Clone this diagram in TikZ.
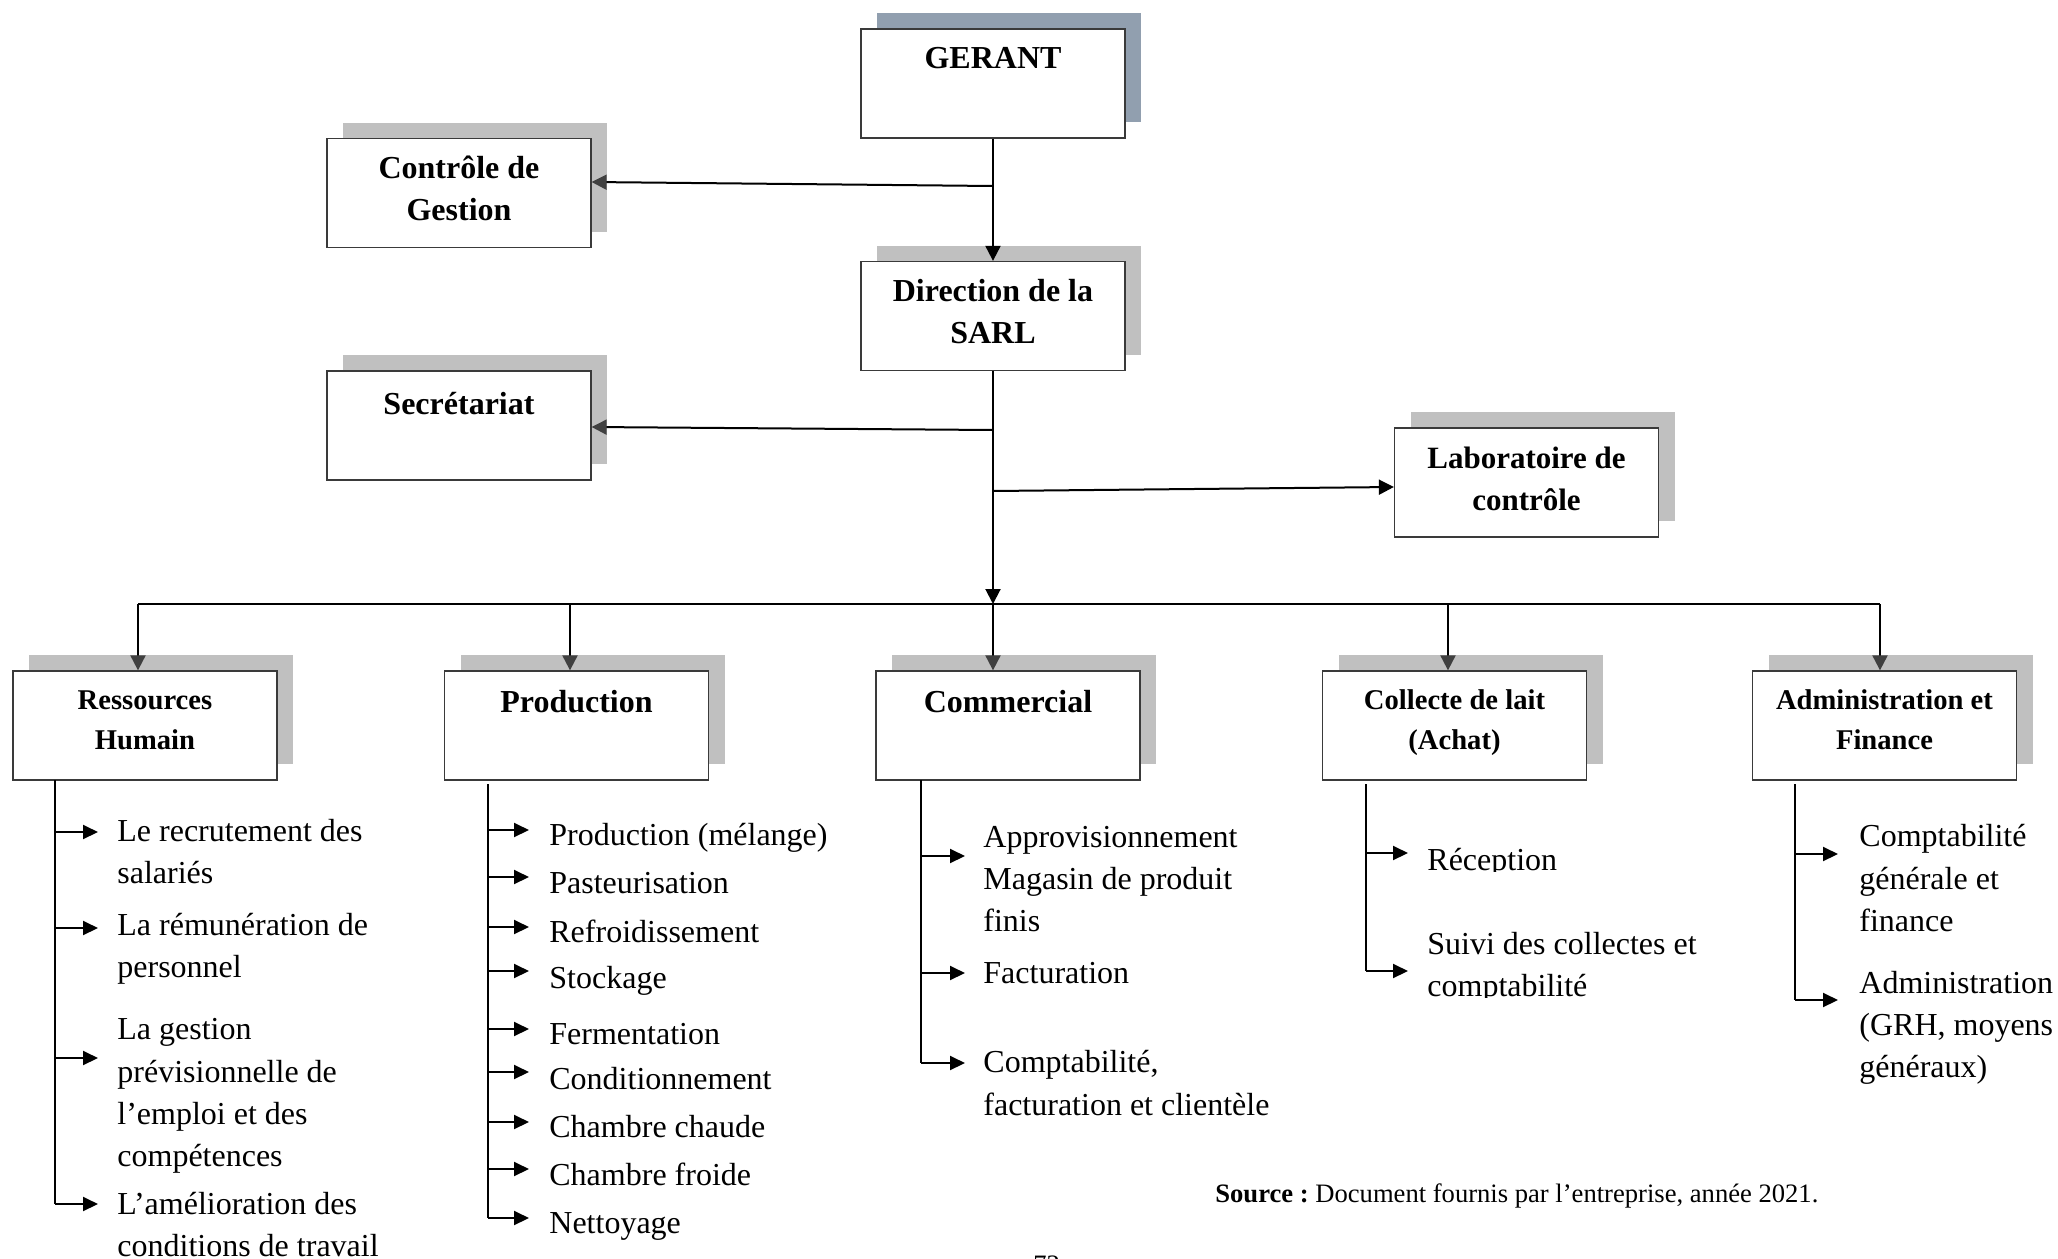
\documentclass[tikz,border=0pt]{standalone}
\usepackage{fontspec}
\setmainfont{Liberation Serif}
\usetikzlibrary{arrows.meta,shadows}
\frenchspacing
\definecolor{shgrey}{HTML}{C0C0C0}
\definecolor{shslate}{HTML}{919FAF}
\definecolor{bordergrey}{HTML}{3A3A3A}
\definecolor{tipgrey}{HTML}{404040}
\tikzset{
  orgbox/.style={draw=bordergrey, line width=0.65pt, fill=white,
    minimum width=132pt, minimum height=54.5pt, inner sep=0pt},
  greyshadow/.style={general shadow={shadow xshift=8pt, shadow yshift=8pt, fill=shgrey}},
  slateshadow/.style={general shadow={shadow xshift=8pt, shadow yshift=8pt, fill=shslate}},
  hdr/.style={font=\bfseries\fontsize{16}{21}\selectfont, anchor=base, inner sep=0pt},
  hdrmid/.style={font=\bfseries\fontsize{15.5}{20}\selectfont, anchor=base, inner sep=0pt},
  hdrsmall/.style={font=\bfseries\fontsize{14.3}{18}\selectfont, anchor=base, inner sep=0pt},
  item/.style={font=\fontsize{16}{21}\selectfont, anchor=base west, inner sep=0pt},
  trunk/.style={line width=1pt, black},
  greytip/.style={-{Triangle[length=7.5pt,width=7.5pt,color=tipgrey]}},
  blacktip/.style={-{Triangle[length=7.5pt,width=7.5pt]}},
  listline/.style={line width=1pt, black},
  listtip/.style={-{Triangle[length=7.5pt,width=7pt]}}
}
\begin{document}
\begin{tikzpicture}[x=0.5pt,y=-0.5pt]
\useasboundingbox (0,0) rectangle (2058,1259);
\clip (0,0) rectangle (2058,1259);
\fill[white] (0,0) rectangle (2058,1259);

% ---------- boxes ----------
\node[orgbox, slateshadow] (ger) at (993,83.5) {};
\node[orgbox, greyshadow] (cg)  at (459,193) {};
\node[orgbox, greyshadow] (dir) at (993,316) {};
\node[orgbox, greyshadow] (sec) at (459,425.5) {};
\node[orgbox, greyshadow] (lab) at (1526.5,482.5) {};
\node[orgbox, greyshadow] (rh)   at (145,725.5) {};
\node[orgbox, greyshadow] (prod) at (576.5,725.5) {};
\node[orgbox, greyshadow] (com)  at (1008,725.5) {};
\node[orgbox, greyshadow] (col)  at (1454.5,725.5) {};
\node[orgbox, greyshadow] (adm)  at (1884.5,725.5) {};

% ---------- box titles ----------
\node[hdr] (gert) at (993,68) {GERANT};
\node[hdr] (cgt1) at (459,178) {Contrôle de};
\node[hdr] (cgt2) at (459,220) {Gestion};
\node[hdr] (dirt1) at (993,301) {Direction de la};
\node[hdr] (dirt2) at (993,343) {SARL};
\node[hdr] (sect) at (459,414) {Secrétariat};
\node[hdrmid] (labt1) at (1526.5,468) {Laboratoire de};
\node[hdrmid] (labt2) at (1526.5,510) {contrôle};
\node[hdrsmall] (rht1) at (145,709) {Ressources};
\node[hdrsmall] (rht2) at (145,749) {Humain};
\node[hdr] (prodt) at (576.5,712) {Production};
\node[hdr] (comt) at (1008,712) {Commercial};
\node[hdrsmall] (colt1) at (1454.5,709) {Collecte de lait};
\node[hdrsmall] (colt2) at (1454.5,749) {(Achat)};
\node[hdrsmall] (admt1) at (1884.5,709) {Administration et};
\node[hdrsmall] (admt2) at (1884.5,749) {Finance};

% ---------- upper connectors ----------
\coordinate (jcg) at (993,186);
\coordinate (jsec) at (993,430);
\coordinate (jlab) at (993,491);
\coordinate (bar) at (993,604);
\draw[trunk, blacktip] (ger.south) -- (dir.north);
\draw[trunk, greytip] (jcg) -- ([yshift=5.5pt]cg.east);
\draw[trunk, blacktip] (dir.south) -- (bar);
\draw[trunk, greytip] (jsec) -- ([yshift=-0.75pt]sec.east);
\draw[trunk, blacktip] (jlab) -- ([yshift=-2.25pt]lab.west);

% ---------- distribution bar ----------
\coordinate (d1) at (138,604);
\coordinate (d2) at (570,604);
\coordinate (d3) at (993,604);
\coordinate (d4) at (1448,604);
\coordinate (d5) at (1880,604);
\draw[trunk] (d1) -- (d5);
\draw[trunk, greytip] (d1) -- (d1 |- rh.north);
\draw[trunk, greytip] (d2) -- (d2 |- prod.north);
\draw[trunk, greytip] (d3) -- (d3 |- com.north);
\draw[trunk, greytip] (d4) -- (d4 |- col.north);
\draw[trunk, greytip] (d5) -- (d5 |- adm.north);

% ---------- Ressources Humain list ----------
\coordinate (rhs) at (55,780);
\draw[listline] (rhs) -- (55,1204);
\foreach \y in {832,928,1058,1204}
  \draw[listline, listtip] (55,\y) -- (98,\y);
\foreach \y/\t [count=\i] in {841/{Le recrutement des}, 883/{salariés},
  935/{La rémunération de}, 977/{personnel}, 1039/{La gestion},
  1082/{prévisionnelle de}, 1124/{l’emploi et des}, 1166/{compétences},
  1214/{L’amélioration des}, 1256/{conditions de travail}}
  \node[item] (rhi\i) at (117,\y) {\t};

% ---------- Production list ----------
\coordinate (prs) at (488,784);
\draw[listline] (prs) -- (488,1218);
\foreach \y in {830,877,927,971,1029,1072,1122,1169,1218}
  \draw[listline, listtip] (488,\y) -- (529,\y);
\foreach \y/\t [count=\i] in {845/{Production (mélange)}, 893/{Pasteurisation},
  942/{Refroidissement}, 988/{Stockage}, 1044/{Fermentation},
  1089/{Conditionnement}, 1137/{Chambre chaude}, 1185/{Chambre froide},
  1233/{Nettoyage}}
  \node[item] (pri\i) at (549,\y) {\t};

% ---------- Commercial list ----------
\coordinate (cms) at (921,780);
\draw[listline] (cms) -- (921,1063);
\foreach \y in {856,973,1063}
  \draw[listline, listtip] (921,\y) -- (965,\y);
\foreach \y/\t [count=\i] in {847/{Approvisionnement}, 889/{Magasin de produit},
  931/{finis}, 983/{Facturation}, 1072/{Comptabilité,},
  1115/{facturation et clientèle}}
  \node[item] (cmi\i) at (983,\y) {\t};

% ---------- Collecte list ----------
\coordinate (cls) at (1366,784);
\draw[listline] (cls) -- (1366,971);
\foreach \y in {853,971}
  \draw[listline, listtip] (1366,\y) -- (1408,\y);
\begin{scope}
  \clip (1400,800) rectangle (1750,871);
  \node[item] (cli1) at (1427,870) {Réception};
\end{scope}
\node[item] (cli2) at (1427,954) {Suivi des collectes et};
\begin{scope}
  \clip (1400,960) rectangle (1750,997);
  \node[item] (cli3) at (1427,996) {comptabilité};
\end{scope}

% ---------- Administration list ----------
\coordinate (ads) at (1795,784);
\draw[listline] (ads) -- (1795,1000);
\foreach \y in {854,1000}
  \draw[listline, listtip] (1795,\y) -- (1838,\y);
\foreach \y/\t [count=\i] in {846/{Comptabilité}, 889/{générale et},
  931/{finance}, 993/{Administration}, 1035/{(GRH, moyens},
  1077/{généraux)}}
  \node[item] (adi\i) at (1859,\y) {\t};

% ---------- source and page number ----------
\node[font=\fontsize{13.3}{16}\selectfont, anchor=base west, inner sep=0pt] (src)
  at (1215,1202) {\textbf{Source :} Document fournis par l’entreprise, année 2021.};
\node[font=\fontsize{13.3}{16}\selectfont, anchor=base west, inner sep=0pt] (pg)
  at (1033,1273) {72};
\end{tikzpicture}
\end{document}
